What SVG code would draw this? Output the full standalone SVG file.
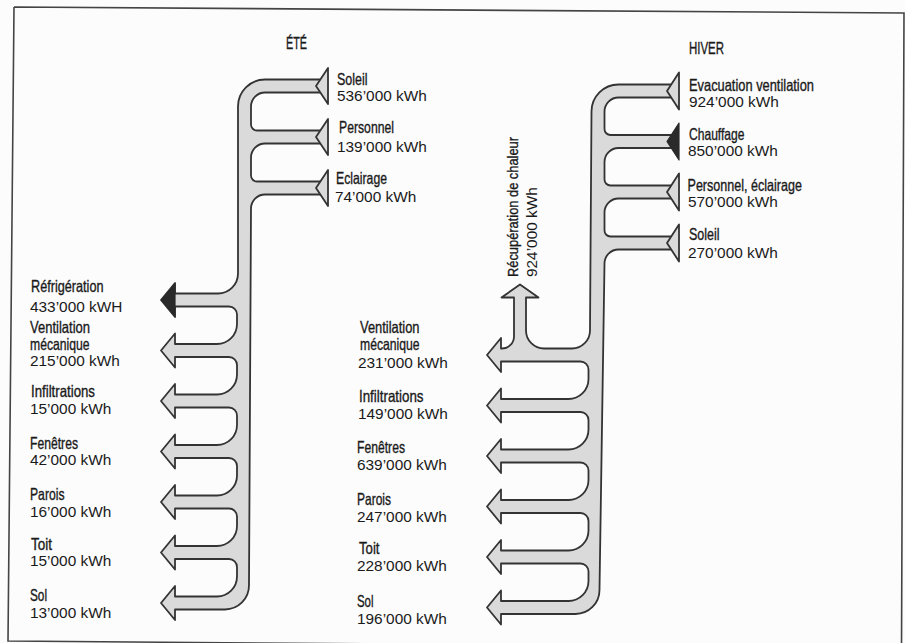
<svg xmlns="http://www.w3.org/2000/svg" width="905" height="643" viewBox="0 0 905 643">
<style>
.flow{fill:#dadada;stroke:#333;stroke-width:1.8;stroke-linejoin:round}
.dark{fill:#2a2a2a;stroke:#2a2a2a;stroke-width:1.2;stroke-linejoin:round}
.nm{font-family:"Liberation Sans Narrow","Arial Narrow","Liberation Sans",sans-serif;font-size:16.5px;fill:#1a1a1a;stroke:#1a1a1a;stroke-width:0.35}
.val{font-family:"Liberation Sans",Arial,sans-serif;font-size:15.4px;fill:#1a1a1a}
.frame{fill:none;stroke:#444;stroke-width:1.6}
</style>
<rect width="905" height="643" fill="#fcfcfc"/>
<path class="frame" d="M14,7 L904,13 L901.5,650 M14,7 L8,641 L901.5,648"/>
<g id="connectors">
<path id="flow-ete" class="flow" d="M324,79.5 H265 A27 27 0 0 0 238,106.5 V273.5 A20 20 0 0 1 218,293.5 H175 V283 L161,300 L175,317 V306.5 H229 A8 8 0 0 1 237,314.5 V324 A20 20 0 0 1 217,344 H175 V333.5 L161,350.5 L175,367.5 V357 H229 A8 8 0 0 1 237,365 V374.5 A20 20 0 0 1 217,394.5 H175 V384 L161,401 L175,418 V407.5 H229 A8 8 0 0 1 237,415.5 V425 A20 20 0 0 1 217,445 H175 V434.5 L161,451.5 L175,468.5 V458 H229 A8 8 0 0 1 237,466 V475.5 A20 20 0 0 1 217,495.5 H175 V485 L161,502 L175,519 V508.5 H229 A8 8 0 0 1 237,516.5 V526 A20 20 0 0 1 217,546 H175 V535.5 L161,552.5 L175,569.5 V559 H229 A8 8 0 0 1 237,567 V576.5 A20 20 0 0 1 217,596.5 H175 V586 L161,603 L175,620 V609.5 H225 A24 24 0 0 0 249,585.5 L251,208.5 A14 14 0 0 1 265,194.5 H324 V181.5 H257 A6 6 0 0 1 251,175.5 V157.5 A14 14 0 0 1 265,143.5 H324 V130.5 H257 A6 6 0 0 1 251,124.5 V106.5 A14 14 0 0 1 265,92.5 H324 Z"/>
<polygon class="flow" points="328,68 316,86 328,104"/>
<polygon class="flow" points="328,119 316,137 328,155"/>
<polygon class="flow" points="328,170 316,188 328,206"/>
<polygon class="dark" points="175,283.5 161.5,300 175,316.5"/>
<path id="flow-hiver" class="flow" d="M675,84.5 H618.5 A27 27 0 0 0 591.5,111.5 L590,330.5 A18 18 0 0 1 572,348.5 H544 A18 18 0 0 1 526,330.5 V297.5 H538.5 L520,284.5 L501.5,297.5 H514 V336.5 A12 12 0 0 1 502,348.5 H501 V338 L487,355 L501,372 V361.5 H580.5 A8 8 0 0 1 588.5,369.5 V379 A20 20 0 0 1 568.5,399 H501 V388.5 L487,405.5 L501,422.5 V412 H580.5 A8 8 0 0 1 588.5,420 V429.5 A20 20 0 0 1 568.5,449.5 H501 V439 L487,456 L501,473 V462.5 H580.5 A8 8 0 0 1 588.5,470.5 V480 A20 20 0 0 1 568.5,500 H501 V489.5 L487,506.5 L501,523.5 V513 H580.5 A8 8 0 0 1 588.5,521 V530.5 A20 20 0 0 1 568.5,550.5 H501 V540 L487,557 L501,574 V563.5 H580.5 A8 8 0 0 1 588.5,571.5 V581 A20 20 0 0 1 568.5,601 H501 V590.5 L487,607.5 L501,624.5 V614 H575.5 A24 24 0 0 0 599.5,590 L604.5,263.5 A14 14 0 0 1 618.5,249.5 H675 V236.5 H610.5 A6 6 0 0 1 604.5,230.5 V212.5 A14 14 0 0 1 618.5,198.5 H675 V185.5 H610.5 A6 6 0 0 1 604.5,179.5 V162 A14 14 0 0 1 618.5,148 H675 V135 H610.5 A6 6 0 0 1 604.5,129 V111.5 A14 14 0 0 1 618.5,97.5 H675 Z"/>
<polygon class="flow" points="679,72.5 667,91 679,109.5"/>
<polygon class="dark" points="679,123 667,141.5 679,160"/>
<polygon class="flow" points="679,173.5 667,192 679,210.5"/>
<polygon class="flow" points="679,224.5 667,243 679,261.5"/>
</g>
<g id="title-ete"><text class="nm" x="286" y="49" textLength="21" lengthAdjust="spacingAndGlyphs">ÉTÉ</text></g>
<g id="title-hiver"><text class="nm" x="689" y="54" textLength="35" lengthAdjust="spacingAndGlyphs">HIVER</text></g>
<g id="ete-soleil"><text class="nm" x="337" y="85" textLength="30.5" lengthAdjust="spacingAndGlyphs">Soleil</text><text class="val" x="337" y="101">536’000 kWh</text></g>
<g id="ete-personnel"><text class="nm" x="339" y="133" textLength="55" lengthAdjust="spacingAndGlyphs">Personnel</text><text class="val" x="337" y="152">139’000 kWh</text></g>
<g id="ete-eclairage"><text class="nm" x="336" y="184" textLength="51" lengthAdjust="spacingAndGlyphs">Eclairage</text><text class="val" x="335" y="202">74’000 kWh</text></g>
<g id="ete-refrigeration"><text class="nm" x="31" y="292" textLength="72.5" lengthAdjust="spacingAndGlyphs">Réfrigération</text><text class="val" x="30" y="312">433’000 kWH</text></g>
<g id="ete-ventilation"><text class="nm" x="30" y="333" textLength="60" lengthAdjust="spacingAndGlyphs">Ventilation</text><text class="nm" x="30" y="350" textLength="59.5" lengthAdjust="spacingAndGlyphs">mécanique</text><text class="val" x="30" y="365.5">215’000 kWh</text></g>
<g id="ete-infiltrations"><text class="nm" x="31" y="397" textLength="64" lengthAdjust="spacingAndGlyphs">Infiltrations</text><text class="val" x="30" y="413.5">15’000 kWh</text></g>
<g id="ete-fenetres"><text class="nm" x="30" y="448.5" textLength="48" lengthAdjust="spacingAndGlyphs">Fenêtres</text><text class="val" x="30" y="465">42’000 kWh</text></g>
<g id="ete-parois"><text class="nm" x="30" y="500" textLength="34.5" lengthAdjust="spacingAndGlyphs">Parois</text><text class="val" x="30" y="517">16’000 kWh</text></g>
<g id="ete-toit"><text class="nm" x="31" y="550" textLength="21" lengthAdjust="spacingAndGlyphs">Toit</text><text class="val" x="30" y="566">15’000 kWh</text></g>
<g id="ete-sol"><text class="nm" x="30" y="601" textLength="17" lengthAdjust="spacingAndGlyphs">Sol</text><text class="val" x="30" y="618">13’000 kWh</text></g>
<g id="hiver-evacuation"><text class="nm" x="689" y="91" textLength="125" lengthAdjust="spacingAndGlyphs">Evacuation ventilation</text><text class="val" x="689" y="106.5">924’000 kWh</text></g>
<g id="hiver-chauffage"><text class="nm" x="689" y="139.5" textLength="55.5" lengthAdjust="spacingAndGlyphs">Chauffage</text><text class="val" x="688" y="156">850’000 kWh</text></g>
<g id="hiver-personnel"><text class="nm" x="687.5" y="190.5" textLength="114.5" lengthAdjust="spacingAndGlyphs">Personnel, éclairage</text><text class="val" x="688" y="207">570’000 kWh</text></g>
<g id="hiver-soleil"><text class="nm" x="689" y="240" textLength="30.5" lengthAdjust="spacingAndGlyphs">Soleil</text><text class="val" x="688" y="257.5">270’000 kWh</text></g>
<g id="hiver-recuperation"><text class="nm" transform="translate(517.5,277) rotate(-90)" x="0" y="0" textLength="140" lengthAdjust="spacingAndGlyphs" style="font-size:15.5px">Récupération de chaleur</text><text class="val" transform="translate(536.5,277) rotate(-90)" x="0" y="0">924’000 kWh</text></g>
<g id="hiver-ventilation"><text class="nm" x="360" y="333" textLength="59.5" lengthAdjust="spacingAndGlyphs">Ventilation</text><text class="nm" x="360" y="350" textLength="59.5" lengthAdjust="spacingAndGlyphs">mécanique</text><text class="val" x="358" y="368">231’000 kWh</text></g>
<g id="hiver-infiltrations"><text class="nm" x="359" y="402" textLength="64.5" lengthAdjust="spacingAndGlyphs">Infiltrations</text><text class="val" x="358" y="419">149’000 kWh</text></g>
<g id="hiver-fenetres"><text class="nm" x="357" y="453" textLength="48" lengthAdjust="spacingAndGlyphs">Fenêtres</text><text class="val" x="357" y="469.5">639’000 kWh</text></g>
<g id="hiver-parois"><text class="nm" x="357" y="505" textLength="34" lengthAdjust="spacingAndGlyphs">Parois</text><text class="val" x="357" y="522">247’000 kWh</text></g>
<g id="hiver-toit"><text class="nm" x="359" y="553.5" textLength="20.5" lengthAdjust="spacingAndGlyphs">Toit</text><text class="val" x="357" y="571">228’000 kWh</text></g>
<g id="hiver-sol"><text class="nm" x="357" y="607" textLength="16.5" lengthAdjust="spacingAndGlyphs">Sol</text><text class="val" x="357" y="624">196’000 kWh</text></g>
</svg>
